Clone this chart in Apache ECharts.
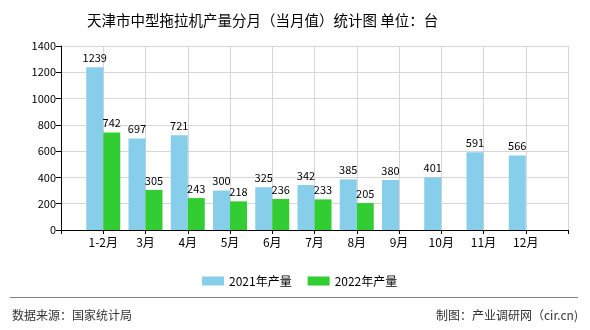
<!DOCTYPE html>
<html>
<head>
<meta charset="utf-8">
<script src="https://cdn.jsdelivr.net/npm/echarts@6/dist/echarts.min.js"></script>
<style>
html,body{margin:0;padding:0;background:#fff;}
#c{width:590px;height:330px;}
</style>
</head>
<body>
<div id="c"></div>
<script>
var categories = ['', '1-2月', '3月', '4月', '5月', '6月', '7月', '8月', '9月', '10月', '11月', '12月', ''];
var series2021 = ['-', 1239, 697, 721, 300, 325, 342, 385, 380, 401, 591, 566, '-'];
var series2022 = ['-', 742, 305, 243, 218, 236, 233, 205, '-', '-', '-', '-', '-'];
var yTicks = [0, 200, 400, 600, 800, 1000, 1200, 1400];
var seriesNames = ['2021年产量', '2022年产量'];
var titleText = '天津市中型拖拉机产量分月（当月值）统计图 单位：台';
var sourceText = '数据来源：国家统计局';
var makerText = '制图：产业调研网（cir.cn)';

var FONT = '"Noto Sans CJK SC", "Liberation Sans", sans-serif';
var chart = echarts.init(document.getElementById('c'), null, {renderer: 'canvas'});
chart.setOption({
  animation: false,
  backgroundColor: '#fff',
  textStyle: {fontFamily: FONT},
  title: {
    text: titleText,
    left: 82, top: 8,
    textStyle: {fontSize: 14.5, fontWeight: 'normal', color: '#000', fontFamily: FONT}
  },
  legend: {
    data: seriesNames,
    icon: 'rect',
    left: 197, top: 270,
    itemWidth: 22, itemHeight: 9, itemGap: 16,
    textStyle: {fontSize: 12, color: '#000', fontFamily: FONT}
  },
  grid: {left: 61, right: 22, top: 46, bottom: 100, containLabel: false},
  xAxis: {
    type: 'category',
    data: categories,
    boundaryGap: false,
    axisLine: {lineStyle: {color: '#000', width: 1}},
    axisTick: {show: true, interval: 0, length: 4, lineStyle: {color: '#000'}},
    axisLabel: {interval: 0, color: '#000', fontSize: 12, margin: 6, fontFamily: FONT},
    splitLine: {show: true, interval: 0, lineStyle: {color: '#d6d6d6', width: 1}}
  },
  yAxis: {
    type: 'value',
    min: yTicks[0], max: yTicks[yTicks.length - 1], interval: 200,
    axisLine: {show: true, lineStyle: {color: '#000', width: 1}},
    axisTick: {show: true, length: 5, lineStyle: {color: '#000'}},
    axisLabel: {color: '#000', fontSize: 11, margin: 5, fontFamily: FONT,
      formatter: function (v) { return String(v); }},
    splitLine: {show: true, lineStyle: {color: '#d6d6d6', width: 1}}
  },
  series: [
    {
      name: seriesNames[0], type: 'bar', data: series2021,
      barWidth: 17, barGap: '0%',
      itemStyle: {color: '#87CEEB'},
      label: {show: true, position: 'top', distance: 4, color: '#000', fontSize: 11, fontFamily: FONT}
    },
    {
      name: seriesNames[1], type: 'bar', data: series2022,
      barWidth: 17, barGap: '0%',
      itemStyle: {color: '#32CD32'},
      label: {show: true, position: 'top', distance: 4, color: '#000', fontSize: 11, fontFamily: FONT}
    }
  ],
  graphic: [
    {type: 'line', shape: {x1: 10, y1: 297.5, x2: 578, y2: 297.5}, style: {stroke: '#808080', lineWidth: 1}},
    {type: 'text', left: 12, top: 309, style: {text: sourceText, fontSize: 12, fill: '#333', fontFamily: FONT}},
    {type: 'text', right: 12, top: 309, style: {text: makerText, fontSize: 12, fill: '#333', fontFamily: FONT}}
  ]
});
</script>
</body>
</html>
